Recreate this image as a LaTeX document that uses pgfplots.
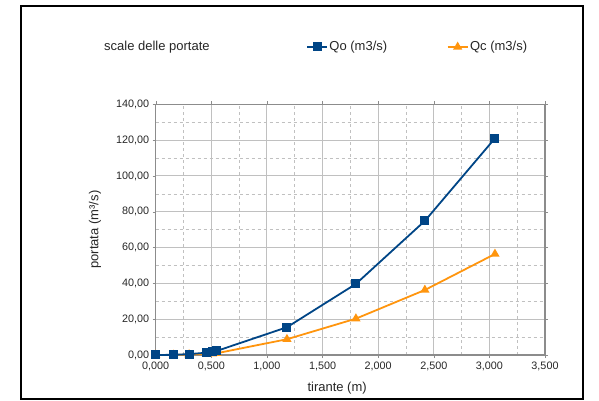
\documentclass[border=0pt]{standalone}
\usepackage{pgfplots}
\pgfplotsset{compat=1.18}
\usepackage{fontspec}
\setmainfont{Liberation Sans}
\definecolor{qo}{HTML}{004586}
\definecolor{qc}{HTML}{FF950E}
\definecolor{gridc}{HTML}{C0C0C0}
\definecolor{axc}{HTML}{8C8C8C}
\begin{document}
\begin{tikzpicture}[x=1pt,y=1pt,font=\fontsize{13}{15}\selectfont]
\useasboundingbox (0,0) rectangle (599,401);
\draw[line width=1.4pt,black] (21,2) rectangle (583,395);
\node[anchor=west,text=black!85,inner sep=0pt] at (104,354) {scale delle portate};
\begin{axis}[
  at={(155.7pt,46pt)}, anchor=south west, scale only axis,
  width=389.3pt, height=250.7pt,
  xmin=0, xmax=3.5, ymin=0, ymax=140,
  xtick={0,0.5,...,3.5}, ytick={0,20,...,140},
  minor xtick={0.25,0.75,...,3.25}, minor ytick={10,30,...,130},
  grid=both,
  major grid style={gridc, line width=0.9pt},
  minor grid style={gridc, dashed, line width=0.6pt},
  axis line style={axc, line width=1.3pt},
  tick style={axc},
  major tick length=3pt, minor tick length=0pt,
  tick align=outside,
  xticklabel style={/pgf/number format/.cd, fixed, fixed zerofill, precision=3, use comma, 1000 sep={}, assume math mode=true},
  yticklabel style={/pgf/number format/.cd, fixed, fixed zerofill, precision=2, use comma, 1000 sep={}, assume math mode=true},
  ticklabel style={font=\fontsize{10.8}{12}\selectfont, text=black!85},
  xlabel={tirante (m)}, ylabel={portata (m³/s)},
  xlabel style={at={(axis description cs:0.466,-0.132)}, anchor=center, font=\fontsize{13}{15}\selectfont, text=black!85},
  ylabel style={at={(axis description cs:-0.156,0.5)}, anchor=center, font=\fontsize{13}{15}\selectfont, text=black!85},
  legend columns=2, reverse legend,
  legend style={at={(0.386,1.2286)}, anchor=west, draw=none, fill=none, inner sep=0pt,
    nodes={inner sep=1.5pt},
    font=\fontsize{13}{15}\selectfont, text=black!85,
    /tikz/every even column/.append style={column sep=58pt}},
  legend image code/.code={\draw[#1, mark repeat=2, mark phase=2] plot coordinates {(0pt,0pt) (10pt,0pt) (20pt,0pt)};},
  clip=false,
]
\addplot[qc, line width=1.8pt, mark=triangle*, mark size=3.6pt, mark options={solid}] coordinates {
(0,0) (0.16,0.05) (0.30,0.25) (0.46,0.6) (0.51,0.8) (0.55,1.0) (1.18,8.8) (1.80,20.3) (2.42,36.3) (3.05,56.4)};
\addlegendentry{Qc (m3/s)}
\addplot[qo, line width=1.8pt, mark=square*, mark size=3.6pt, mark options={solid}] coordinates {
(0,0) (0.16,0.1) (0.30,0.5) (0.46,1.3) (0.51,1.8) (0.55,2.3) (1.18,15.5) (1.80,39.7) (2.42,74.9) (3.05,121.0)};
\addlegendentry{Qo (m3/s)}
\end{axis}
\end{tikzpicture}
\end{document}
